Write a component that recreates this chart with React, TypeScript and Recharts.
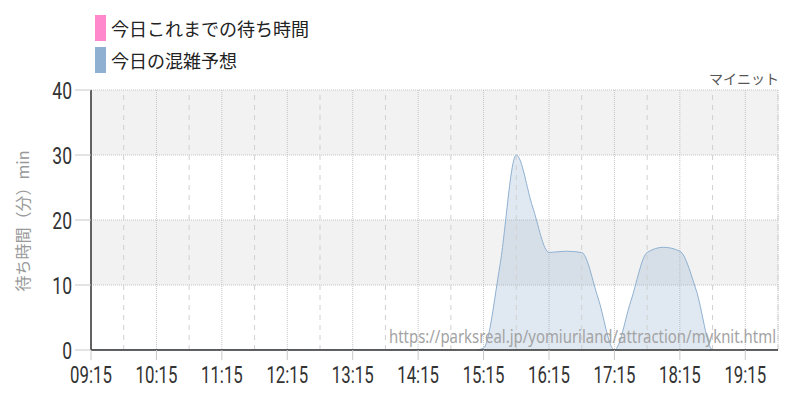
import { ComposedChart, Area, XAxis, YAxis, CartesianGrid, ReferenceLine } from 'recharts'

// 15-minute slots, 09:15 - 19:45
const timeLabels = [
  '09:15', '09:30', '09:45', '10:00', '10:15', '10:30', '10:45', '11:00', '11:15', '11:30', '11:45',
  '12:00', '12:15', '12:30', '12:45', '13:00', '13:15', '13:30', '13:45', '14:00', '14:15', '14:30',
  '14:45', '15:00', '15:15', '15:30', '15:45', '16:00', '16:15', '16:30', '16:45', '17:00', '17:15',
  '17:30', '17:45', '18:00', '18:15', '18:30', '18:45', '19:00', '19:15', '19:30', '19:45',
]

// 今日の混雑予想 (min)
const forecast = [
  0, 0, 0, 0, 0, 0, 0, 0, 0, 0, 0,
  0, 0, 0, 0, 0, 0, 0, 0, 0, 0, 0,
  0, -0.3, 0.3, 13, 30, 22, 15, 15.2, 15, 8, 0,
  7.5, 15, 15.8, 15.2, 9.2, 0, -0.3, 0, 0, 0,
]

// 今日これまでの待ち時間 (nothing recorded yet)
const actual: number[] = []

const hourTicks = ['09:15', '10:15', '11:15', '12:15', '13:15', '14:15', '15:15', '16:15', '17:15', '18:15', '19:15']
const halfHourLines = ['09:45', '10:45', '11:45', '12:45', '13:45', '14:45', '15:45', '16:45', '17:45', '18:45', '19:45']
const yTicks = [0, 10, 20, 30, 40]

const legendItems = [
  { name: '今日これまでの待ち時間', color: '#ff88cc' },
  { name: '今日の混雑予想', color: '#8fb0d0' },
]

const toMin = (t: string) => {
  const [h, m] = t.split(':').map(Number)
  return h * 60 + m
}
const fromMin = (v: number) => {
  const h = Math.floor(v / 60)
  const m = v % 60
  return `${String(h).padStart(2, '0')}:${String(m).padStart(2, '0')}`
}

const data = timeLabels.map((t, i) => ({
  t: toMin(t),
  forecast: forecast[i],
  actual: actual[i] ?? null,
}))

const FONT = 'Roboto, "Noto Sans CJK JP", sans-serif'

const XTick = ({ x, y, payload }: any) => (
  <g transform={`translate(${x},${y})`}>
    <text x={0} y={0} dy={21} textAnchor="middle" fill="#333" fontSize={23} fontFamily="Roboto" transform="scale(0.73,1)">
      {fromMin(payload.value)}
    </text>
  </g>
)

const YTick = ({ x, y, payload }: any) => (
  <g transform={`translate(${x},${y})`}>
    <text x={0} y={0} dy={8.5} textAnchor="end" fill="#333" fontSize={24} fontFamily="Roboto" transform="scale(0.73,1)">
      {payload.value}
    </text>
  </g>
)

const App = () => {
  return (
    <div style={{ position: 'absolute', top: 0, left: 0, width: 800, height: 400, background: '#fff', fontFamily: FONT }}>
      <ComposedChart width={800} height={400} data={data} margin={{ top: 90, right: 22, bottom: 0, left: 0 }}>
        <CartesianGrid
          stroke="#c4c4c4"
          strokeDasharray="1 1"
          horizontalFill={['#f2f2f2', '#ffffff']}
        />
        {halfHourLines.map((t) => (
          <ReferenceLine key={t} x={toMin(t)} stroke="#d0d0d0" strokeDasharray="5 5" />
        ))}
        <XAxis
          dataKey="t"
          type="number"
          domain={[toMin('09:15'), toMin('19:45')]}
          ticks={hourTicks.map(toMin)}
          height={50}
          tickSize={10}
          tickMargin={2}
          tick={<XTick />}
          tickLine={{ stroke: '#c8c8c8' }}
          axisLine={{ stroke: '#333', strokeWidth: 1.5 }}
        />
        <YAxis
          domain={[0, 40]}
          ticks={yTicks}
          allowDataOverflow
          width={91}
          tickSize={16}
          tickMargin={3}
          tick={<YTick />}
          tickLine={{ stroke: '#c8c8c8' }}
          axisLine={{ stroke: '#333', strokeWidth: 1.5 }}
        />
        <Area
          type="monotone"
          dataKey="forecast"
          name="今日の混雑予想"
          stroke="#8fb0d0"
          strokeWidth={1}
          fill="#8fb0d0"
          fillOpacity={0.28}
          dot={false}
          isAnimationActive={false}
        />
        <Area
          type="monotone"
          dataKey="actual"
          name="今日これまでの待ち時間"
          stroke="#ff88cc"
          fill="#ff88cc"
          fillOpacity={0.3}
          dot={false}
          isAnimationActive={false}
        />
      </ComposedChart>

      {/* legend */}
      <div style={{ position: 'absolute', top: 12, left: 95 }}>
        {legendItems.map((item) => (
          <div key={item.name} style={{ display: 'flex', alignItems: 'center', height: 32 }}>
            <span style={{ display: 'inline-block', width: 11, height: 26, background: item.color, marginRight: 5 }} />
            <span style={{ fontSize: 18, color: '#222', fontFamily: '"Noto Sans CJK JP"' }}>{item.name}</span>
          </div>
        ))}
      </div>

      <svg width={800} height={400} style={{ position: 'absolute', top: 0, left: 0, pointerEvents: 'none' }}>
        <text x={779} y={84} textAnchor="end" fontSize={14} fill="#555" fontFamily='"Noto Sans CJK JP"'>マイニット</text>
        <text
          x={0}
          y={0}
          transform="translate(22,221) rotate(-90)"
          textAnchor="middle"
          dominantBaseline="central"
          fontSize={16}
          fill="#999"
          fontFamily='"Noto Sans CJK JP"'
        >
          待ち時間（分）min
        </text>
        <text
          x={389}
          y={343}
          textLength={387}
          lengthAdjust="spacingAndGlyphs"
          fontSize={18}
          fill="#a3a3a3"
          fontFamily='"Noto Sans", sans-serif'
        >
          https://parksreal.jp/yomiuriland/attraction/myknit.html
        </text>
      </svg>
    </div>
  )
}

export default App
